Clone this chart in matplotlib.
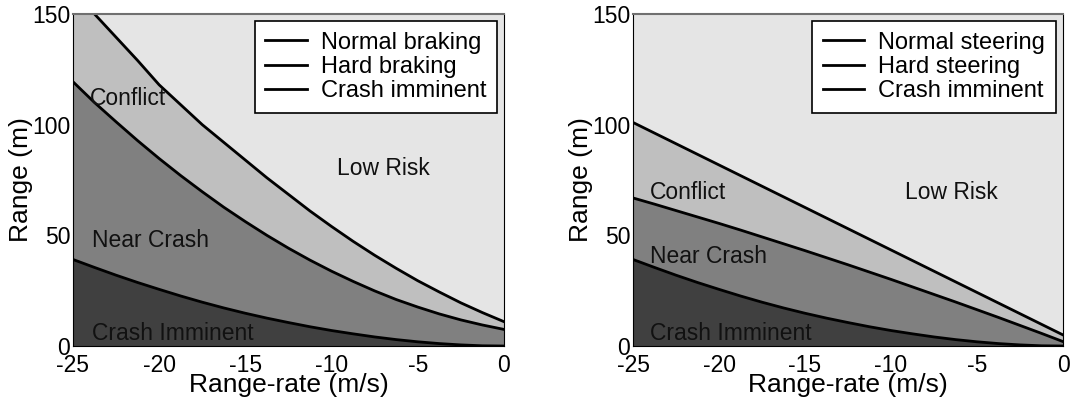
import numpy as np
import matplotlib.pyplot as plt

plt.rcParams['font.family'] = ['Liberation Sans', 'DejaVu Sans']
plt.rcParams['axes.unicode_minus'] = False

# Range-rate (m/s)
rango_vel = np.array([-25, -23.75, -22.5, -21.25, -20, -18.75, -17.5, -16.25, -15, -13.75,
                      -12.5, -11.25, -10, -8.75, -7.5, -6.25, -5, -3.75, -2.5, -1.25, 0])

# Frenado (m)
frenado_normal = np.array([161, 150, 139.5, 129, 118, 109, 100, 92, 84, 76,
                           68.5, 61, 54, 47.3, 41, 35.1, 29.5, 24.4, 19.5, 15.1, 11])
frenado_fuerte = np.array([119.4, 110, 101.3, 92.8, 84.7, 77, 69.7, 62.7, 56.2, 50,
                           44.2, 38.8, 33.8, 29.2, 24.9, 21, 17.6, 14.5, 11.8, 9.5, 7.5])
choque_inminente = np.array([39.1, 35.5, 32, 28.7, 25.6, 22.6, 19.8, 17.2, 14.8, 12.6,
                             10.6, 8.7, 7, 5.5, 4.1, 2.9, 1.9, 1.1, 0.5, 0.1, 0])

# Direccion / esquive (m)
giro_normal = np.array([101, 96.2, 91.4, 86.6, 81.8, 77, 72.2, 67.4, 62.6, 57.8,
                        53, 48.2, 43.4, 38.6, 33.8, 29, 24.2, 19.4, 14.6, 9.8, 5])
giro_fuerte = np.array([66.9, 64.1, 61.2, 58.3, 55.4, 52.4, 49.3, 46.2, 43.1, 39.9,
                        36.7, 33.4, 30.1, 26.7, 23.3, 19.9, 16.4, 12.9, 9.3, 5.7, 2])

etiquetas_frenado = ['Normal braking', 'Hard braking', 'Crash imminent']
etiquetas_giro = ['Normal steering', 'Hard steering', 'Crash imminent']

# Colores de las zonas
c_bajo = '#e5e5e5'
c_conflicto = '#bfbfbf'
c_casi = '#808080'
c_choque = '#404040'

fig = plt.figure(figsize=(10.7, 4.03), dpi=100)
ax1 = fig.add_axes([0.0682, 0.1414, 0.4028, 0.8238])
ax2 = fig.add_axes([0.5916, 0.1414, 0.4019, 0.8238])


def dibujar_panel(ax, sup, med, inf, etiquetas, pos_textos):
    ax.set_facecolor(c_bajo)
    ax.fill_between(rango_vel, med, sup, color=c_conflicto, lw=0)
    ax.fill_between(rango_vel, inf, med, color=c_casi, lw=0)
    ax.fill_between(rango_vel, 0, inf, color=c_choque, lw=0)

    ax.plot(rango_vel, sup, 'k-', lw=2, label=etiquetas[0])
    ax.plot(rango_vel, med, 'k-', lw=2, label=etiquetas[1])
    ax.plot(rango_vel, inf, 'k-', lw=2, label=etiquetas[2])

    textos = ['Conflict', 'Near Crash', 'Crash Imminent', 'Low Risk']
    for t, (x, y) in zip(textos, pos_textos):
        ax.text(x, y, t, fontsize=16.5, ha='left', va='center', color='#111111')

    ax.set_xlim(-25, 0)
    ax.set_ylim(0, 150)
    ax.set_xticks([-25, -20, -15, -10, -5, 0])
    ax.set_yticks([0, 50, 100, 150])
    ax.tick_params(length=0, labelsize=16.5, pad=6)
    ax.tick_params(axis='y', pad=2)
    ax.set_xlabel('Range-rate (m/s)', fontsize=19, labelpad=-3)
    ax.set_ylabel('Range (m)', fontsize=19, labelpad=-1)
    for lado in ['left', 'bottom', 'right']:
        ax.spines[lado].set_color('black')
    ax.spines['top'].set_color('#707070')
    ax.spines['top'].set_linewidth(1.5)

    leg = ax.legend(loc='upper right', fontsize=17, frameon=True, fancybox=False,
                    edgecolor='black', framealpha=1, handlelength=1.75,
                    handletextpad=0.6, labelspacing=0.1, borderpad=0.45,
                    borderaxespad=0.3)
    leg.get_frame().set_linewidth(1.2)


dibujar_panel(ax1, frenado_normal, frenado_fuerte, choque_inminente, etiquetas_frenado,
              [(-24.0, 112), (-23.9, 47.5), (-23.9, 5.6), (-9.7, 80)])
dibujar_panel(ax2, giro_normal, giro_fuerte, choque_inminente, etiquetas_giro,
              [(-24.0, 69.2), (-24.0, 40.6), (-24.0, 5.6), (-9.2, 69.2)])

fig.savefig('out.png', dpi=100)
